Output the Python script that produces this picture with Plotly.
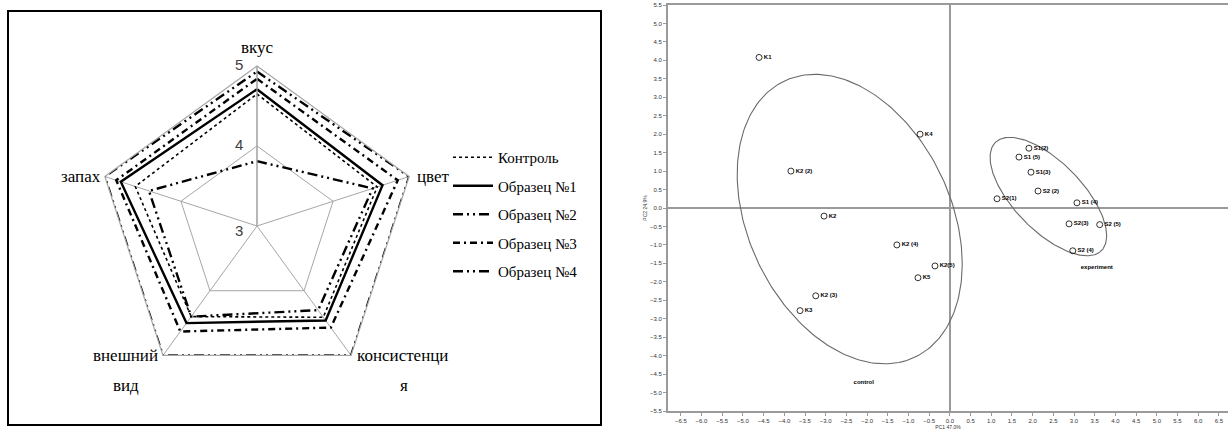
import numpy as np
import plotly.graph_objects as go

W, H = 1228, 434

# ---------------- Radar data ----------------
radar_categories = ["вкус", "цвет", "консистенция", "внешний вид", "запах"]
radar_names = ["Контроль", "Образец №1", "Образец №2", "Образец №3", "Образец №4"]
control_vals = [4.65, 4.58, 4.41, 4.40, 4.60]
sample1_vals = [4.71, 4.65, 4.46, 4.50, 4.79]
sample2_vals = [4.93, 5.00, 5.00, 5.00, 5.00]
sample3_vals = [4.84, 4.85, 4.57, 4.63, 4.85]
sample4_vals = [3.81, 4.52, 4.30, 4.40, 4.42]
radial_ticks = [3, 4, 5]
radial_range = [3, 5]

# category label lines as printed (wrapped) in the picture
label_line1 = ["вкус", "цвет", "консистенци", "внешний", "запах"]
label_line2 = ["", "", "я", "вид", ""]

# ---------------- PCA scatter data ----------------
control_labels = ["K1", "K4", "K2 (2)", "K2", "K2 (4)", "K2(5)", "K5", "K2 (3)", "K3"]
control_pc1 = [-4.61, -0.72, -3.84, -3.04, -1.28, -0.36, -0.77, -3.24, -3.62]
control_pc2 = [4.08, 2.00, 1.00, -0.22, -1.00, -1.57, -1.89, -2.38, -2.78]

exp_labels = ["S1(2)", "S1 (5)", "S1(3)", "S2 (2)", "S2(1)", "S1 (4)", "S2(3)", "S2 (5)", "S2 (4)"]
exp_pc1 = [1.91, 1.67, 1.96, 2.13, 1.14, 3.07, 2.88, 3.62, 2.97]
exp_pc2 = [1.62, 1.38, 0.97, 0.46, 0.25, 0.14, -0.43, -0.45, -1.16]

group_names = ["control", "experiment"]
group_label_x = [-2.08, 3.55]
group_label_y = [-4.73, -1.60]

# ellipse parameters: centre x, centre y, semi-axis a, semi-axis b, rotation (deg)
ellipse_control = [-2.42, -0.30, 4.07, 2.49, -70.2]
ellipse_experiment = [2.38, 0.31, 1.95, 0.87, -50.6]

x_tick_vals = [round(-6.5 + 0.5 * i, 1) for i in range(27)]
y_tick_vals = [round(-5.5 + 0.5 * i, 1) for i in range(23)]

fig = go.Figure()

# ---- radar traces ----
dash_styles = ["dot", "solid", "10px,4px,2px,4px,2px,4px", "7px,4px,2px,4px", "10px,4px,2px,4px,2px,4px"]
widths = [1.6, 2.4, 2.4, 2.4, 2.4]
for i, (name, vals) in enumerate(zip(radar_names,
                                      [control_vals, sample1_vals, sample2_vals, sample3_vals, sample4_vals])):
    fig.add_trace(go.Scatterpolar(
        r=vals + [vals[0]],
        theta=radar_categories + [radar_categories[0]],
        mode="lines",
        name=name,
        line=dict(color="black", width=widths[i], dash=dash_styles[i]),
        legendgroup=name,
        subplot="polar",
    ))

# ---- ellipses ----
def ellipse_xy(p):
    cx, cy, a, b, ang = p
    t = np.linspace(0, 2 * np.pi, 240)
    th = np.deg2rad(ang)
    x = cx + a * np.cos(t) * np.cos(th) - b * np.sin(t) * np.sin(th)
    y = cy + a * np.cos(t) * np.sin(th) + b * np.sin(t) * np.cos(th)
    return x, y

for p in (ellipse_control, ellipse_experiment):
    ex, ey = ellipse_xy(p)
    fig.add_trace(go.Scatter(x=ex, y=ey, mode="lines", showlegend=False,
                             line=dict(color="#6a6a6a", width=1.1), hoverinfo="skip"))

# ---- points ----
for xs, ys, labs in ((control_pc1, control_pc2, control_labels), (exp_pc1, exp_pc2, exp_labels)):
    fig.add_trace(go.Scatter(
        x=xs, y=ys, text=labs, mode="markers+text", textposition="middle right",
        marker=dict(symbol="circle-open", size=6, color="black", line=dict(width=0.8, color="black")),
        textfont=dict(family="Liberation Sans", size=6, color="black", weight="bold"),
        showlegend=False,
    ))

fig.add_trace(go.Scatter(
    x=group_label_x, y=group_label_y, text=group_names, mode="text",
    textfont=dict(family="Liberation Sans", size=6, color="black", weight="bold"), showlegend=False,
))

# ---- radar geometry / labels ----
cx_px, cy_px, R = 257, 226, 160
ang = np.deg2rad(90 - 72 * np.arange(5))
vx = cx_px + R * np.cos(ang)
vy = cy_px - R * np.sin(ang)
serif = dict(family="Liberation Serif", size=17, color="black")
annotations = []
place = [
    dict(dx=0, dy=-19, xanchor="center"),
    dict(dx=6, dy=0, xanchor="left"),
    dict(dx=4, dy=0, xanchor="left"),
    dict(dx=-3, dy=0, xanchor="right"),
    dict(dx=-2, dy=0, xanchor="right"),
]
line2_dx = [0, 0, 53, -37, 0]
for i in range(5):
    px_ = vx[i] + place[i]["dx"]
    py_ = vy[i] + place[i]["dy"]
    annotations.append(dict(text=label_line1[i], x=px_ / W, y=1 - py_ / H, xref="paper", yref="paper",
                            xanchor=place[i]["xanchor"], yanchor="middle", showarrow=False, font=serif))
    if label_line2[i]:
        annotations.append(dict(text=label_line2[i], x=(vx[i] + line2_dx[i]) / W, y=1 - (py_ + 30) / H,
                                xref="paper", yref="paper", xanchor="center", yanchor="middle",
                                showarrow=False, font=serif))
# radial tick labels, placed left of the vertical spoke
for v in radial_ticks:
    ry = cy_px - R * (v - radial_range[0]) / (radial_range[1] - radial_range[0])
    annotations.append(dict(text=str(v), x=(cx_px - 12) / W, y=1 - (ry + (4 if v == 3 else -2)) / H,
                            xref="paper", yref="paper", xanchor="right", yanchor="middle",
                            showarrow=False, font=dict(family="Liberation Sans", size=15, color="#404040")))

fig.update_layout(
    width=W, height=H,
    margin=dict(l=0, r=0, t=0, b=0),
    paper_bgcolor="white",
    plot_bgcolor="white",
    annotations=annotations,
    polar=dict(
        domain=dict(x=[(cx_px - R) / W, (cx_px + R) / W],
                    y=[1 - (cy_px + R) / H, 1 - (cy_px - R) / H]),
        bgcolor="white",
        gridshape="linear",
        radialaxis=dict(range=radial_range, tickvals=radial_ticks, angle=90, showticklabels=False,
                        showline=True, linecolor="#a6a6a6", linewidth=1.2,
                        gridcolor="#a6a6a6", gridwidth=1.2, ticks=""),
        angularaxis=dict(direction="clockwise", rotation=90, showticklabels=False,
                         showline=True, linecolor="#a6a6a6", linewidth=1.2,
                         gridcolor="#a6a6a6", gridwidth=1.2, ticks=""),
    ),
    legend=dict(x=448 / W, y=1 - 141 / H, xanchor="left", yanchor="top",
                traceorder="grouped", tracegroupgap=6,
                font=dict(family="Liberation Serif", size=15, color="black"),
                bgcolor="rgba(0,0,0,0)", itemwidth=40),
    xaxis=dict(domain=[668 / W, 1.0], range=[-6.81, 6.72], automargin=False,
               tickvals=x_tick_vals, tickformat=".1f",
               showline=True, linecolor="#9a9a9a", linewidth=2, mirror=True,
               ticks="outside", ticklen=3, tickcolor="#9a9a9a",
               showgrid=False, zeroline=True, zerolinecolor="#9a9a9a", zerolinewidth=1.5,
               tickfont=dict(family="Liberation Sans", size=6, color="#333"),
               title=dict(text="PC1 47.0%", font=dict(family="Liberation Sans", size=5, color="#333"),
                          standoff=2)),
    yaxis=dict(domain=[1 - 411 / H, 1 - 5 / H], range=[-5.5, 5.5], automargin=False,
               tickvals=y_tick_vals, tickformat=".1f",
               showline=True, linecolor="#9a9a9a", linewidth=2,
               ticks="outside", ticklen=3, tickcolor="#9a9a9a",
               showgrid=False, zeroline=True, zerolinecolor="#9a9a9a", zerolinewidth=1.5,
               tickfont=dict(family="Liberation Sans", size=6, color="#333"),
               title=dict(text="PC2 24.9%", font=dict(family="Liberation Sans", size=5, color="#333"),
                          standoff=2)),
    shapes=[dict(type="rect", xref="paper", yref="paper",
                 x0=8 / W, x1=601 / W, y0=1 - 425 / H, y1=1 - 11 / H,
                 line=dict(color="black", width=2))],
)

fig.write_html("out.html", config={"displayModeBar": False},
               post_script="document.body.style.margin='0';")
